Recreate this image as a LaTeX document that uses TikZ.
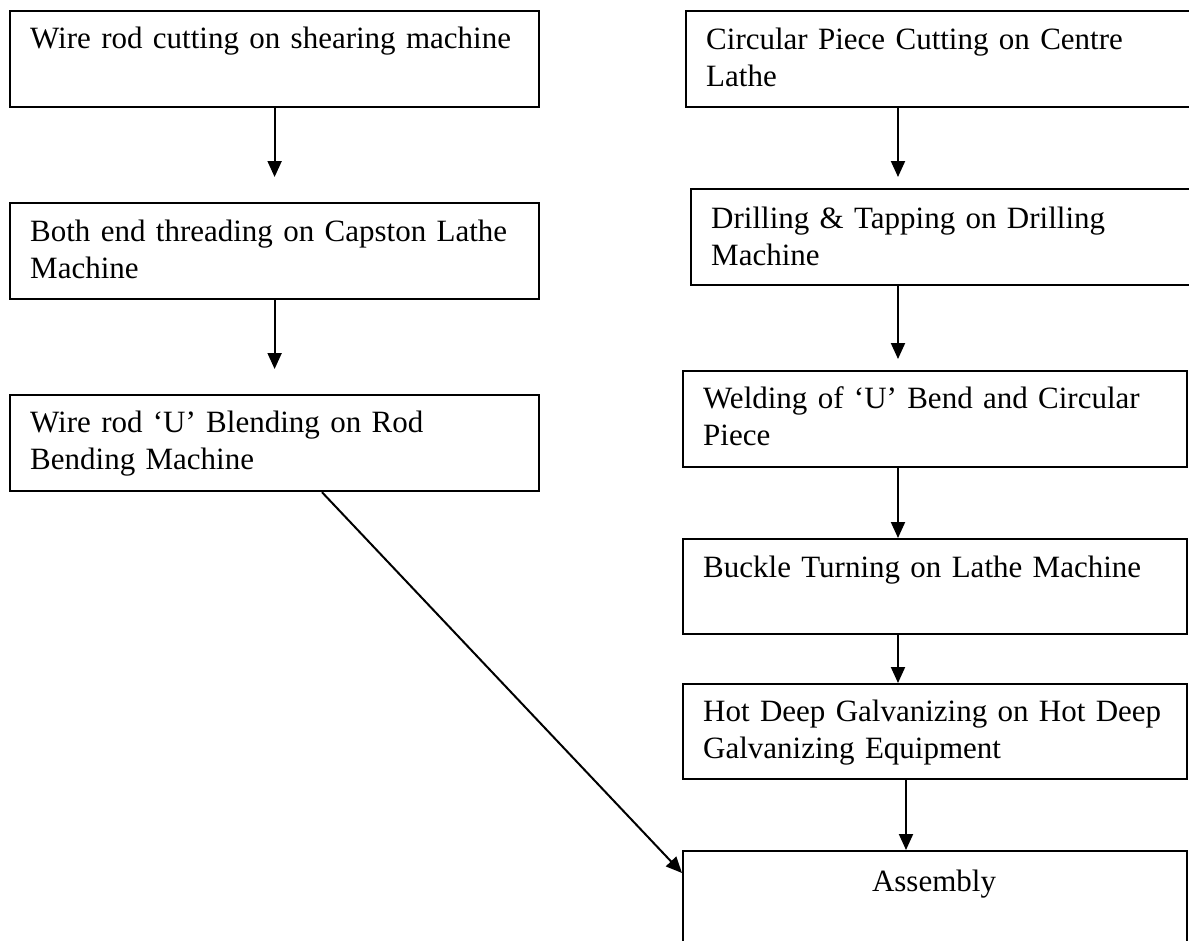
\documentclass[tikz,border=0pt]{standalone}
\usepackage{fontspec}
\setmainfont{Liberation Serif}
\usetikzlibrary{arrows.meta,calc}
\begin{document}
\begin{tikzpicture}[x=1pt,y=-1pt,
  box/.style={draw=black,line width=2.2pt,rectangle,inner sep=0pt,anchor=north west},
  txt/.style={anchor=base west,inner sep=0pt,text width=520pt,align=left,
    font=\fontsize{31}{37}\selectfont},
  arr/.style={line width=2pt,-{Triangle[length=16pt,width=14pt]}}]
\clip (0,0) rectangle (1189,940);
\fill[white] (0,0) rectangle (1189,940);
% left column
\node[box,minimum width=529pt,minimum height=96pt] (L1) at (9,10) {};
\node[box,minimum width=529pt,minimum height=96pt] (L2) at (9,202) {};
\node[box,minimum width=529pt,minimum height=96pt] (L3) at (9,394) {};
% right column
\node[box,minimum width=520pt,minimum height=96pt] (R1) at (685,10) {};
\node[box,minimum width=515pt,minimum height=96pt] (R2) at (690,188) {};
\node[box,minimum width=504pt,minimum height=96pt] (R3) at (682,370) {};
\node[box,minimum width=504pt,minimum height=95pt] (R4) at (682,538) {};
\node[box,minimum width=504pt,minimum height=95pt] (R5) at (682,683) {};
\node[box,minimum width=504pt,minimum height=100pt] (A) at (682,850) {};
% texts
\node[txt] (tL1) at (30,48) {Wire rod cutting on shearing machine};
\node[txt] (tL2) at (30,241) {Both end threading on Capston Lathe\\Machine};
\node[txt] (tL3) at (30,432) {Wire rod ‘U’ Blending on Rod\\Bending Machine};
\node[txt] (tR1) at (706,49) {Circular Piece Cutting on Centre\\Lathe};
\node[txt] (tR2) at (711,228) {Drilling \& Tapping on Drilling\\Machine};
\node[txt] (tR3) at (703,408) {Welding of ‘U’ Bend and Circular\\Piece};
\node[txt] (tR4) at (703,577) {Buckle Turning on Lathe Machine};
\node[txt] (tR5) at (703,721) {Hot Deep Galvanizing on Hot Deep\\Galvanizing Equipment};
\node[anchor=base,inner sep=0pt,font=\fontsize{31}{37}\selectfont] (tA) at (934,891) {Assembly};
% helper coordinates
\coordinate (xr) at (898,0);
\coordinate (xa) at (906,0);
\coordinate (xd) at (322,0);
\coordinate (yd) at (0,873);
% connectors
\draw[arr] (L1.south) -- ([yshift=25pt]L2.north);
\draw[arr] (L2.south) -- ([yshift=25pt]L3.north);
\draw[arr] (R1.south -| xr) -- ([yshift=11pt]R2.north -| xr);
\draw[arr] (R2.south -| xr) -- ([yshift=11pt]R3.north -| xr);
\draw[arr] (R3.south -| xr) -- (R4.north -| xr);
\draw[arr] (R4.south -| xr) -- (R5.north -| xr);
\draw[arr] (R5.south -| xa) -- (A.north -| xa);
\draw[arr] (L3.south -| xd) -- (A.west |- yd);
\end{tikzpicture}
\end{document}
